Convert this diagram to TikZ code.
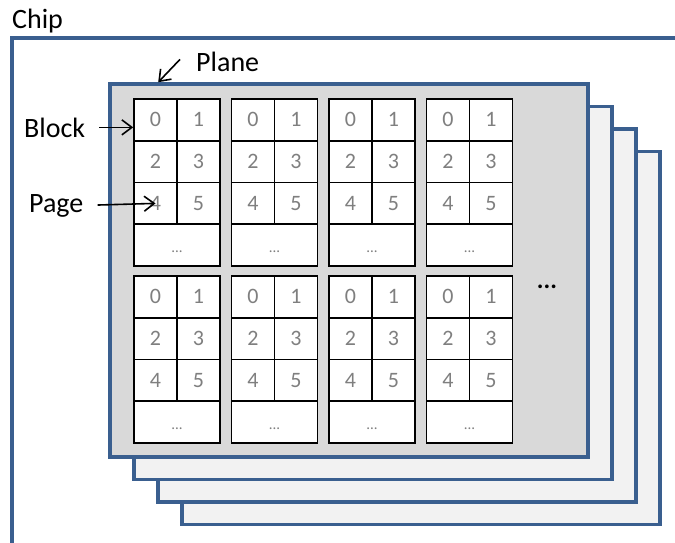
\documentclass[tikz,border=0pt]{standalone}
\usepackage{fontspec}
\setmainfont{Carlito}
\usetikzlibrary{arrows.meta, positioning, calc}
\definecolor{cblue}{HTML}{3A5F8F}
\definecolor{cgrey}{HTML}{7F7F7F}
\definecolor{cfront}{HTML}{D9D9D9}
\definecolor{cback}{HTML}{F2F2F2}
\tikzset{
  plane/.style={draw=cblue, fill=#1, line width=3.6pt, minimum width=478pt, minimum height=373pt, inner sep=0pt},
  plane/.default=cback,
  cell/.style={draw=black, fill=white, line width=1.6pt, minimum width=43pt, minimum height=41.75pt, inner sep=0pt,
               text=cgrey, font=\fontsize{22}{22}\selectfont},
  dotcell/.style={cell, minimum width=86pt, text height=14pt, text depth=0pt, font=\fontsize{15}{15}\selectfont},
  lbltext/.style={font=\fontsize{28}{28}\selectfont, inner sep=0pt, anchor=base west},
  arrow/.style={-{Straight Barb[length=10pt,width=15pt]}, line width=1.6pt},
}

\begin{document}
\begin{tikzpicture}[x=1pt, y=-1pt]
  \useasboundingbox (0,0) rectangle (675,542);
  % chip frame, cut off at the page edge
  \node[lbltext] (chip) at (12,28) {Chip};
  \draw[cblue, line width=3.2pt] (12,560) -- (12,38) -- (690,38);
  % planes, back to front
  \foreach \k in {3,2,1}
    \node[plane] (back\k) at (349+24*\k, 270.5+22.5*\k) {};
  \node[plane=cfront] (front) at (349,270.5) {};
  % blocks of pages
  \foreach \r in {0,1}
    \foreach \c in {0,...,3} {
      \pgfmathsetmacro{\bx}{134+97.5*\c}
      \pgfmathsetmacro{\by}{99+177*\r}
      \foreach \n in {0,...,5} {
        \pgfmathtruncatemacro{\col}{mod(\n,2)}
        \pgfmathtruncatemacro{\row}{\n/2}
        \node[cell] (b\r\c-\n) at (\bx+21.5+43*\col, \by+20.875+41.75*\row) {\n};
      }
      \node[dotcell] (b\r\c-x) at (\bx+43, \by+146.125) {...};
    }
  \node[font=\fontsize{25}{25}\selectfont\bfseries] (more) at (547,287) {...};
  % labels
  \node[lbltext] (pl) at (196,71) {Plane};
  \node[lbltext] (blk) at (24,137) {Block};
  \node[lbltext] (pg) at (29,212) {Page};
  \draw[arrow] ([xshift=-16pt,yshift=2pt]pl.west) -- ($(front.north west)+(50,0)$);
  \draw[arrow, shorten <=14pt] (blk.east) -- (blk.east -| b00-0.west);
  \draw[arrow, shorten <=14pt] (pg.east) -- (b00-4.center);
\end{tikzpicture}
\end{document}
